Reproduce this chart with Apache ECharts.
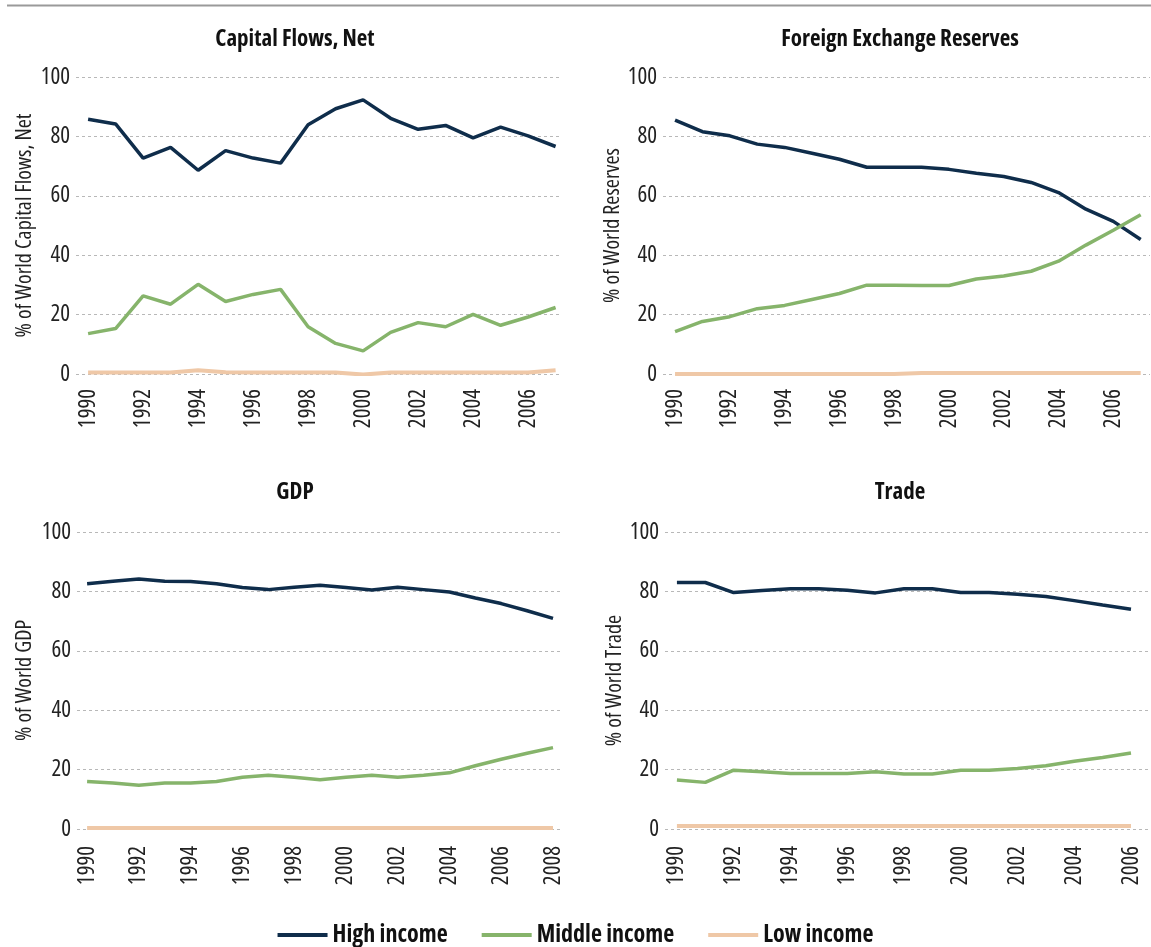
<!DOCTYPE html>
<html>
<head>
<meta charset="utf-8">
<title>Shares of world capital flows, reserves, GDP and trade</title>
<script src="https://cdn.jsdelivr.net/npm/echarts@6/dist/echarts.min.js"></script>
<style>
  html, body { margin: 0; padding: 0; background: #fff; }
  #main { width: 1151px; height: 947px; }
</style>
</head>
<body>
<div id="main"></div>
<script>
// years on each panel
var years1990_2007 = [1990, 1991, 1992, 1993, 1994, 1995, 1996, 1997, 1998, 1999, 2000, 2001, 2002, 2003, 2004, 2005, 2006, 2007];
var years1990_2008 = [1990, 1991, 1992, 1993, 1994, 1995, 1996, 1997, 1998, 1999, 2000, 2001, 2002, 2003, 2004, 2005, 2006, 2007, 2008];
var years1990_2006 = [1990, 1991, 1992, 1993, 1994, 1995, 1996, 1997, 1998, 1999, 2000, 2001, 2002, 2003, 2004, 2005, 2006];

// tick labels
var yearTicks = [1990, 1992, 1994, 1996, 1998, 2000, 2002, 2004, 2006];
var yearTicksGdp = [1990, 1992, 1994, 1996, 1998, 2000, 2002, 2004, 2006, 2008];

var seriesNames = ['High income', 'Middle income', 'Low income'];

// Capital Flows, Net (% of world)
var capHigh = [85.8, 84.2, 72.7, 76.3, 68.6, 75.2, 72.7, 71.0, 83.9, 89.3, 92.3, 86.1, 82.4, 83.7, 79.5, 83.1, 80.2, 76.6];
var capMiddle = [13.6, 15.3, 26.3, 23.5, 30.2, 24.4, 26.8, 28.5, 15.9, 10.3, 7.8, 14.0, 17.3, 15.9, 20.1, 16.4, 19.2, 22.4];
var capLow = [0.5, 0.5, 0.5, 0.5, 1.3, 0.6, 0.5, 0.5, 0.5, 0.5, -0.2, 0.5, 0.5, 0.5, 0.5, 0.5, 0.5, 1.3];

// Foreign Exchange Reserves
var resHigh = [85.5, 81.6, 80.2, 77.4, 76.3, 74.3, 72.3, 69.6, 69.6, 69.6, 68.9, 67.6, 66.5, 64.5, 61.1, 55.5, 51.4, 45.3];
var resMiddle = [14.3, 17.7, 19.3, 22.0, 23.1, 25.1, 27.1, 29.9, 29.9, 29.8, 29.8, 32.0, 33.0, 34.6, 38.0, 43.4, 48.4, 53.6];
var resLow = [0, 0, 0, 0, 0, 0, 0, 0, 0, 0.3, 0.3, 0.3, 0.3, 0.3, 0.3, 0.3, 0.3, 0.3];

// GDP
var gdpHigh = [82.6, 83.4, 84.2, 83.4, 83.3, 82.6, 81.3, 80.6, 81.4, 82.1, 81.3, 80.5, 81.4, 80.6, 79.8, 77.8, 75.9, 73.5, 70.9];
var gdpMiddle = [16.0, 15.5, 14.7, 15.5, 15.5, 16.0, 17.4, 18.1, 17.4, 16.6, 17.4, 18.1, 17.4, 18.1, 18.9, 21.3, 23.5, 25.5, 27.4];
var gdpLow = [0.3, 0.3, 0.3, 0.3, 0.3, 0.3, 0.3, 0.3, 0.3, 0.3, 0.3, 0.3, 0.3, 0.3, 0.3, 0.3, 0.3, 0.3, 0.3];

// Trade
var tradeHigh = [83.0, 83.0, 79.6, 80.3, 80.9, 80.9, 80.4, 79.5, 80.9, 80.9, 79.6, 79.6, 79.0, 78.3, 76.9, 75.4, 74.0];
var tradeMiddle = [16.5, 15.7, 19.8, 19.3, 18.7, 18.7, 18.7, 19.3, 18.5, 18.5, 19.8, 19.8, 20.4, 21.3, 22.8, 24.1, 25.6];
var tradeLow = [1.0, 1.0, 1.0, 1.0, 1.0, 1.0, 1.0, 1.0, 1.0, 1.0, 1.0, 1.0, 1.0, 1.0, 1.0, 1.0, 1.0];

var colors = ['#0f2d4b', '#86b46b', '#efc8a7'];
// condensed Open Sans; the stretch keyword rides along in the canvas font string
var font = '"Open Sans", "DejaVu Sans", sans-serif';
var plain = 'condensed';
var heavy = 'bold condensed';

// panel setup
var panels = [
    { title: 'Capital Flows, Net', yName: '% of World Capital Flows, Net', years: years1990_2007, ticks: yearTicks,
      data: [capHigh, capMiddle, capLow], titleX: 295, titleY: 39,
      grid: { left: 76, top: 77, width: 484, height: 297 }, xMin: 1989.56, xMax: 2007.16, nameGap: 40, labelMargin: 15 },
    { title: 'Foreign Exchange Reserves', yName: '% of World Reserves', years: years1990_2007, ticks: yearTicks,
      data: [resHigh, resMiddle, resLow], titleX: 900, titleY: 39,
      grid: { left: 663, top: 77, width: 487, height: 297 }, xMin: 1989.56, xMax: 2007.34, nameGap: 36, labelMargin: 15 },
    { title: 'GDP', yName: '% of World GDP', years: years1990_2008, ticks: yearTicksGdp,
      data: [gdpHigh, gdpMiddle, gdpLow], titleX: 295, titleY: 492,
      grid: { left: 77, top: 532, width: 483, height: 297 }, xMin: 1989.61, xMax: 2008.27, nameGap: 41, labelMargin: 17 },
    { title: 'Trade', yName: '% of World Trade', years: years1990_2006, ticks: yearTicks,
      data: [tradeHigh, tradeMiddle, tradeLow], titleX: 900, titleY: 492,
      grid: { left: 665, top: 532, width: 485, height: 297 }, xMin: 1989.58, xMax: 2006.67, nameGap: 39, labelMargin: 17 }
];

var titles = [], grids = [], xAxes = [], yAxes = [], series = [];
panels.forEach(function (p, i) {
    titles.push({
        text: p.title, left: p.titleX, top: p.titleY, padding: 0,
        textAlign: 'center', textVerticalAlign: 'middle',
        textStyle: { fontFamily: font, fontWeight: heavy, fontSize: 23, color: '#111' }
    });
    grids.push(p.grid);
    xAxes.push({
        type: 'value', gridIndex: i, min: p.xMin, max: p.xMax,
        axisLine: { show: false }, axisTick: { show: false }, splitLine: { show: false },
        axisLabel: {
            customValues: p.ticks, rotate: 90, margin: p.labelMargin,
            fontFamily: font, fontWeight: plain, fontSize: 23, color: '#222',
            formatter: function (v) { return String(v); }
        }
    });
    yAxes.push({
        type: 'value', gridIndex: i, min: 0, max: 100, interval: 20,
        name: p.yName, nameLocation: 'middle', nameRotate: 90, nameGap: p.nameGap,
        nameTextStyle: { fontFamily: font, fontWeight: plain, fontSize: 22, color: '#222' },
        axisLine: { show: false }, axisTick: { show: false },
        axisLabel: { margin: 6, fontFamily: font, fontWeight: plain, fontSize: 23, color: '#222' },
        splitLine: { lineStyle: { color: '#b8b8b8', width: 1, type: [3, 3] } }
    });
    p.data.forEach(function (vals, k) {
        series.push({
            name: seriesNames[k], type: 'line', xAxisIndex: i, yAxisIndex: i,
            symbol: 'none', silent: true,
            lineStyle: { color: colors[k], width: k === 2 ? 4 : 3.5 },
            itemStyle: { color: colors[k] },
            data: p.years.map(function (y, j) { return [y, vals[j]]; })
        });
    });
});

var myChart = echarts.init(document.getElementById('main'));
var option = {
    animation: false,
    title: titles,
    grid: grids,
    xAxis: xAxes,
    yAxis: yAxes,
    legend: {
        data: seriesNames, left: 'center', top: 918,
        icon: 'rect', itemWidth: 50, itemHeight: 4, itemGap: 34,
        textStyle: { fontFamily: font, fontWeight: heavy, fontSize: 24, color: '#111' }
    },
    graphic: [{
        type: 'line', shape: { x1: 7, y1: 5.5, x2: 1151, y2: 5.5 },
        style: { stroke: '#9a9a9a', lineWidth: 2 }, silent: true
    }],
    series: series
};
myChart.setOption(option);
</script>
</body>
</html>
